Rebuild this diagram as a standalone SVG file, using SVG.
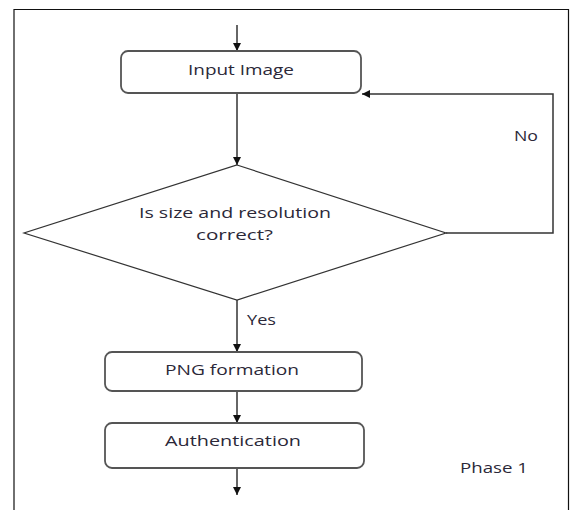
<svg xmlns="http://www.w3.org/2000/svg" width="573" height="510" viewBox="0 0 573 510">
  <defs>
    <marker id="arrow" viewBox="0 0 10 10" refX="10" refY="5" markerWidth="8" markerHeight="8" markerUnits="userSpaceOnUse" orient="auto">
      <path d="M0,0 L10,5 L0,10 Z" fill="#111"/>
    </marker>
    <style>
      .frame { fill: none; stroke: #111; stroke-width: 1.2; }
      .box { fill: #fff; stroke: #555; stroke-width: 1.8; }
      .decision { fill: #fff; stroke: #333; stroke-width: 1.2; }
      .edge { fill: none; stroke: #333; stroke-width: 1.5; }
      .lbl { font-family: "Open Sans", "Liberation Sans", sans-serif; font-size: 15px; fill: #2b2838; }
    </style>
  </defs>

  <rect width="573" height="510" fill="#fff"/>
  <!-- page frame -->
  <path class="frame" d="M14,520 L14,9.5 L568.5,9.5 L568.5,520"/>

  <!-- connectors -->
  <g id="edges">
    <line class="edge" x1="237" y1="25" x2="237" y2="51" marker-end="url(#arrow)"/>
    <line class="edge" x1="237" y1="94" x2="237" y2="165" marker-end="url(#arrow)"/>
    <polyline class="edge" points="446,233 553,233 553,94 362,94" marker-end="url(#arrow)"/>
    <line class="edge" x1="237" y1="300" x2="237" y2="352" marker-end="url(#arrow)"/>
    <line class="edge" x1="237" y1="391" x2="237" y2="423" marker-end="url(#arrow)"/>
    <line class="edge" x1="237" y1="468" x2="237" y2="495" marker-end="url(#arrow)"/>
    <text class="lbl" x="514" y="141" textLength="24" lengthAdjust="spacingAndGlyphs">No</text>
    <text class="lbl" x="247" y="325" textLength="29" lengthAdjust="spacingAndGlyphs">Yes</text>
  </g>

  <g id="input-image">
    <rect class="box" x="121" y="51" width="240" height="42" rx="7"/>
    <text class="lbl" x="188" y="75" textLength="106" lengthAdjust="spacingAndGlyphs">Input Image</text>
  </g>

  <g id="size-check">
    <polygon class="decision" points="237,165 446,233 237,300 24,233"/>
    <text class="lbl" x="139" y="218" textLength="192" lengthAdjust="spacingAndGlyphs">Is size and resolution</text>
    <text class="lbl" x="196" y="240" textLength="77" lengthAdjust="spacingAndGlyphs">correct?</text>
  </g>

  <g id="png-formation">
    <rect class="box" x="105" y="352" width="257" height="39" rx="7"/>
    <text class="lbl" x="165" y="375" textLength="134" lengthAdjust="spacingAndGlyphs">PNG formation</text>
  </g>

  <g id="authentication">
    <rect class="box" x="105" y="423" width="259" height="45" rx="7"/>
    <text class="lbl" x="165" y="446" textLength="136" lengthAdjust="spacingAndGlyphs">Authentication</text>
  </g>

  <g id="phase-label">
    <text class="lbl" x="460" y="473" textLength="68" lengthAdjust="spacingAndGlyphs">Phase 1</text>
  </g>
</svg>
